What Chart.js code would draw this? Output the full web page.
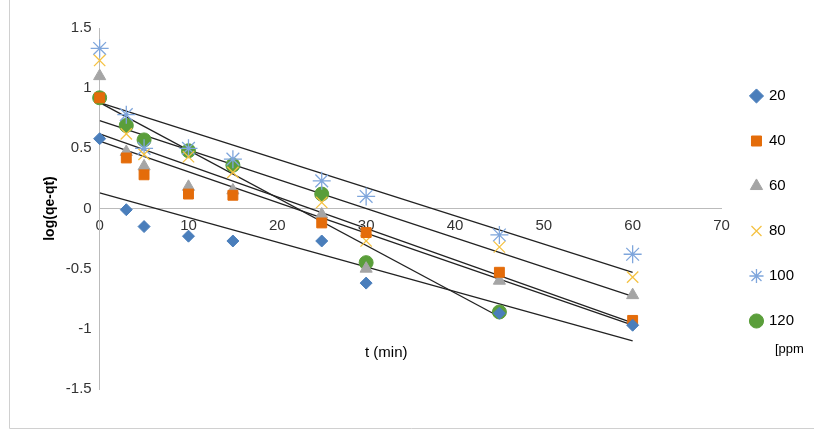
<!DOCTYPE html>
<html>
<head>
<script src="https://cdn.jsdelivr.net/npm/chart.js@4"></script>
<style>
body { margin: 0; background: #fff; }
#wrap { width: 814px; height: 429px; position: relative; }
</style>
</head>
<body>
<div id="wrap"><canvas id="c"></canvas></div>
<script>
// time points (min)
const times = [0, 3, 5, 10, 15, 25, 30, 45, 60];
const labels = ['20', '40', '60', '80', '100', '120'];

const ppm20 = [0.58, -0.01, -0.15, -0.23, -0.27, -0.27, -0.62, -0.87, -0.97];
const ppm40 = [0.92, 0.42, 0.28, 0.12, 0.11, -0.12, -0.2, -0.53, -0.93];
const ppm60 = [1.1, 0.47, 0.35, 0.18, 0.15, -0.05, -0.5, -0.6, -0.72];
const ppm80 = [1.23, 0.62, 0.45, 0.43, 0.3, 0.05, -0.27, -0.32, -0.57];
const ppm100 = [1.33, 0.78, 0.5, 0.5, 0.41, 0.23, 0.1, -0.22, -0.38];
const ppm120 = [0.92, 0.69, 0.57, 0.48, 0.36, 0.12, -0.45, -0.86];

// trend line endpoints: [t start, value start, t end, value end]
const trend20 = [0, 0.13, 60, -1.1];
const trend40 = [0, 0.56, 60, -0.97];
const trend60 = [0, 0.62, 60, -0.95];
const trend80 = [0, 0.73, 60, -0.73];
const trend100 = [0, 0.88, 60, -0.53];
const trend120 = [0, 0.88, 45, -0.9];

const series = [ppm20, ppm40, ppm60, ppm80, ppm100, ppm120];
const trends = [trend20, trend40, trend60, trend80, trend100, trend120];
const colors = ['#4a7ebb', '#e46c0a', '#a5a5a5', '#f5c242', '#7fa6dc', '#5a9e3a'];
const styles = ['rectRot', 'rect', 'triangle', 'crossRot', 'star', 'circle'];
const sizes = [6, 7, 7, 8, 9, 7];

const datasets = [];
series.forEach((vals, i) => {
    datasets.push({
        label: labels[i],
        data: vals.map((v, j) => ({ x: times[j], y: v })),
        showLine: false,
        clip: false,
        pointStyle: styles[i],
        pointRadius: sizes[i],
        backgroundColor: colors[i],
        borderColor: colors[i],
        borderWidth: (styles[i] === 'crossRot' || styles[i] === 'star') ? 1.3 : 1
    });
});
trends.forEach((t, i) => {
    datasets.push({
        label: 'trend' + labels[i],
        data: [{ x: t[0], y: t[1] }, { x: t[2], y: t[3] }],
        showLine: true,
        pointRadius: 0,
        borderColor: '#222',
        borderWidth: 1.3
    });
});

// last legend line "[ppm" and the frame
const ppmNote = {
    id: 'ppmNote',
    afterDraw(chart) {
        const ctx = chart.ctx;
        ctx.save();
        ctx.fillStyle = '#000';
        ctx.font = '13px "Liberation Sans", Arial';
        ctx.fillText('[ppm', 775, 353);
        ctx.strokeStyle = '#d0d0d0';
        ctx.lineWidth = 1;
        ctx.beginPath();
        ctx.moveTo(9.5, 0);
        ctx.lineTo(9.5, 428.5);
        ctx.lineTo(814, 428.5);
        ctx.stroke();
        ctx.restore();
    }
};

const font = { size: 15, family: '"Liberation Sans", Arial' };

new Chart(document.getElementById('c'), {
    type: 'scatter',
    data: { datasets },
    plugins: [ppmNote],
    options: {
        responsive: true,
        maintainAspectRatio: false,
        animation: false,
        layout: { padding: { left: 38, top: 28, bottom: 40, right: 10 } },
        plugins: {
            tooltip: { enabled: false },
            legend: {
                position: 'right',
                align: 'center',
                labels: {
                    usePointStyle: true,
                    boxWidth: 10,
                    boxHeight: 10,
                    padding: 30,
                    color: '#000',
                    font: font,
                    filter: item => !item.text.startsWith('trend')
                }
            }
        },
        scales: {
            x: {
                type: 'linear',
                min: 0, max: 70,
                position: { y: 0 },
                ticks: { stepSize: 10, color: '#333', font: font },
                grid: { display: false, tickLength: 5 },
                border: { color: '#bbb' }
            },
            y: {
                min: -1.5, max: 1.5,
                ticks: { stepSize: 0.5, color: '#333', font: font, callback: v => String(v) },
                grid: { display: false, tickLength: 5 },
                border: { color: '#bbb' },
                title: { display: true, text: 'log(qe-qt)', color: '#000', font: { size: 14, weight: 'bold', family: '"Liberation Sans", Arial' } }
            }
        }
    }
});

// x axis title placed below the plot like the original
const xt = document.createElement('div');
xt.textContent = 't (min)';
xt.style.cssText = 'position:absolute;left:365px;top:343px;font:15px "Liberation Sans", Arial;color:#000;';
document.getElementById('wrap').appendChild(xt);
</script>
</body>
</html>
